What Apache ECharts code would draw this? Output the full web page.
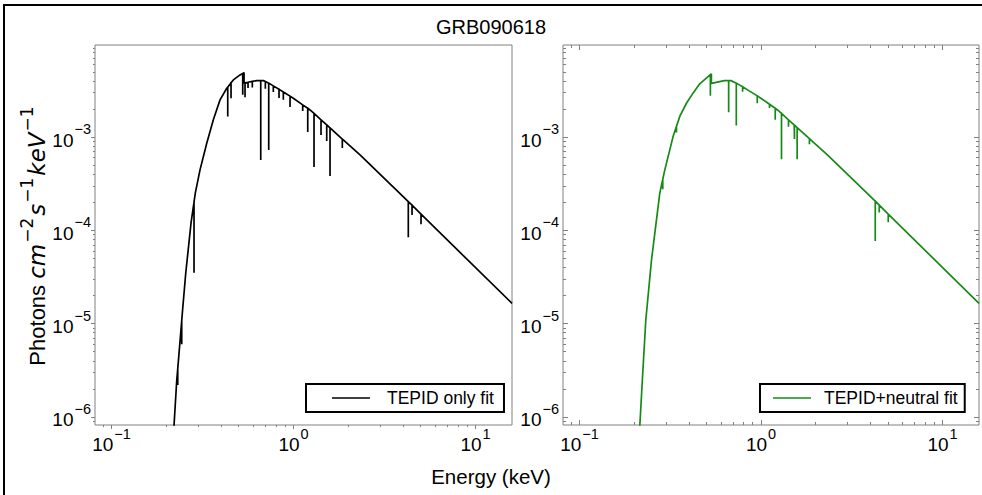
<!DOCTYPE html>
<html><head><meta charset="utf-8">
<script src="https://cdn.jsdelivr.net/npm/echarts@6/dist/echarts.min.js"></script>
<style>html,body{margin:0;padding:0;background:#fff}#c{width:982px;height:495px}</style>
</head><body><div id="c"></div>
<script>
// ---------------- data ----------------
const chartTitle = 'GRB090618';
const xTitle = 'Energy (keV)';
const seriesNames = ['TEPID only fit', 'TEPID+neutral fit'];
const xRange = [0.0811, 15.87];
const yRange = [8.2e-7, 9.68e-3];
const xMajorTicks = [0.1, 1, 10];
const xMinorTicks = [0.09, 0.2, 0.3, 0.4, 0.5, 0.6, 0.7, 0.8, 0.9, 2, 3, 4, 5, 6, 7, 8, 9];
const yMajorTicks = [1e-6, 1e-5, 1e-4, 1e-3];
const yMinorTicks = [9e-7, 2e-6, 3e-6, 4e-6, 5e-6, 6e-6, 7e-6, 8e-6, 9e-6,
  2e-5, 3e-5, 4e-5, 5e-5, 6e-5, 7e-5, 8e-5, 9e-5,
  2e-4, 3e-4, 4e-4, 5e-4, 6e-4, 7e-4, 8e-4, 9e-4,
  2e-3, 3e-3, 4e-3, 5e-3, 6e-3, 7e-3, 8e-3, 9e-3];

// continuum [energy keV, photons]
const tepidContinuum = [
  [0.2150, 2.7e-7], [0.2205, 8.2e-7], [0.2282, 2.49e-6], [0.2449, 1.30e-5], [0.2557, 3.49e-5],
  [0.2734, 1.20e-4], [0.2887, 2.52e-4], [0.3063, 4.44e-4], [0.3335, 8.58e-4], [0.3625, 1.53e-3],
  [0.3946, 2.50e-3], [0.4295, 3.33e-3], [0.4670, 4.09e-3], [0.5082, 4.63e-3], [0.5346, 4.90e-3],
  [0.5346, 3.80e-3], [0.6279, 4.02e-3], [0.6823, 4.02e-3], [0.7427, 3.71e-3], [0.8429, 3.20e-3],
  [0.9975, 2.60e-3], [1.232, 1.95e-3], [1.522, 1.35e-3], [1.877, 9.31e-4], [2.320, 6.43e-4],
  [4.273, 2.03e-4], [15.87, 1.65e-5]
];
// absorption lines [energy, flux at continuum, flux at line bottom]
const tepidLines = [
  [0.2311, 3.3e-6, 2.2e-6], [0.2430, 1.08e-5, 6.0e-6], [0.2839, 2.0e-4, 3.52e-5],
  [0.4350, 3.42e-3, 1.66e-3], [0.4535, 3.81e-3, 2.60e-3], [0.5258, 4.80e-3, 2.83e-3],
  [0.5414, 3.81e-3, 2.67e-3], [0.5623, 3.86e-3, 3.36e-3], [0.5936, 3.94e-3, 3.40e-3],
  [0.6604, 4.02e-3, 5.68e-4], [0.7000, 3.93e-3, 3.28e-3], [0.7306, 3.77e-3, 7.27e-4],
  [0.7744, 3.53e-3, 3.04e-3], [0.8323, 3.25e-3, 2.62e-3], [0.8790, 3.04e-3, 2.50e-3],
  [0.9567, 2.74e-3, 2.10e-3], [1.123, 2.21e-3, 1.90e-3], [1.197, 2.03e-3, 1.13e-3],
  [1.296, 1.79e-3, 4.78e-4], [1.416, 1.53e-3, 1.05e-3], [1.522, 1.35e-3, 9.08e-4],
  [1.587, 1.25e-3, 3.83e-4], [1.854, 9.5e-4, 7.64e-4], [4.273, 2.03e-4, 8.43e-5],
  [4.479, 1.86e-4, 1.46e-4], [5.019, 1.49e-4, 1.16e-4]
];
const neutralContinuum = [
  [0.2097, 2.7e-7], [0.2150, 8.2e-7], [0.2219, 2.49e-6], [0.2319, 1.10e-5], [0.2492, 4.82e-5],
  [0.2768, 2.50e-4], [0.2950, 4.44e-4], [0.3276, 1.01e-3], [0.3566, 1.66e-3], [0.3882, 2.30e-3],
  [0.4219, 2.95e-3], [0.4594, 3.71e-3], [0.4997, 4.27e-3], [0.5326, 4.75e-3], [0.5326, 3.75e-3],
  [0.6279, 4.02e-3], [0.6823, 4.02e-3], [0.7427, 3.71e-3], [0.8429, 3.20e-3], [0.9975, 2.60e-3],
  [1.232, 1.95e-3], [1.522, 1.35e-3], [1.877, 9.31e-4], [2.320, 6.43e-4], [4.273, 2.03e-4],
  [15.87, 1.65e-5]
];
const neutralLines = [
  [0.2875, 3.53e-4, 2.75e-4], [0.3420, 1.30e-3, 1.12e-3], [0.5258, 4.65e-3, 2.76e-3],
  [0.6630, 4.02e-3, 1.84e-3], [0.7306, 3.77e-3, 1.33e-3], [0.7914, 3.45e-3, 3.05e-3],
  [0.9530, 2.76e-3, 2.30e-3], [1.113, 2.24e-3, 2.05e-3], [1.197, 2.03e-3, 1.53e-3],
  [1.296, 1.79e-3, 5.78e-4], [1.416, 1.53e-3, 1.29e-3], [1.528, 1.34e-3, 9.54e-4],
  [1.581, 1.26e-3, 5.78e-4], [1.847, 9.6e-4, 8.37e-4], [4.257, 2.05e-4, 7.70e-5],
  [4.479, 1.86e-4, 1.55e-4], [5.019, 1.49e-4, 1.22e-4]
];

// ---------------- build ----------------
function buildSeriesData(cont, lines) {
  const items = cont.map((p, i) => ({ e: p[0], k: i, pts: [[p[0], p[1]]] }));
  lines.forEach((l, i) => items.push({ e: l[0], k: 1000 + i, pts: [[l[0], l[1]], [l[0], l[2]], [l[0], l[1]]] }));
  items.sort((a, b) => (a.e - b.e) || (a.k - b.k));
  const out = [];
  items.forEach(it => it.pts.forEach(p => out.push(p)));
  return out;
}

const FONT = 'Liberation Sans';
const MATH = 'DejaVu Sans';
const frameColor = '#808080';
function supFmt(v) {
  const e = Math.round(Math.log10(v));
  return '{b|10}{s|' + (e < 0 ? '\u2212' + (-e) : String(e)) + '}';
}
const richTick = {
  b: { fontSize: 19, fontFamily: FONT, color: '#000', verticalAlign: 'bottom', lineHeight: 20 },
  s: { fontSize: 14.5, fontFamily: FONT, color: '#000', verticalAlign: 'bottom', lineHeight: 14, padding: [0, 0, 13, 1] }
};

function xAxisDef(gridIndex, position, ticks, len, inside, labels) {
  return {
    type: 'log', logBase: 10, gridIndex, position, min: xRange[0], max: xRange[1],
    axisLine: { show: false }, splitLine: { show: false },
    axisTick: { show: true, inside, length: len, customValues: ticks, lineStyle: { color: frameColor, width: 1 } },
    axisLabel: labels ? { show: true, customValues: ticks, formatter: supFmt, rich: richTick, margin: 9 } : { show: false }
  };
}
function yAxisDef(gridIndex, position, ticks, len, inside, labels, extra) {
  return Object.assign({
    type: 'log', logBase: 10, gridIndex, position, min: yRange[0], max: yRange[1],
    axisLine: { show: false }, splitLine: { show: false },
    axisTick: { show: true, inside, length: len, customValues: ticks, lineStyle: { color: frameColor, width: 1 } },
    axisLabel: labels ? { show: true, customValues: ticks, formatter: supFmt, rich: richTick, margin: 4, padding: [5, 0, 0, 0] } : { show: false }
  }, extra || {});
}

const yName = '{r|Photons }{i|cm}{s|\u22122}{i|s}{s|\u22121}{i|keV}{s|\u22121}';
const yNameStyle = {
  rich: {
    r: { fontSize: 22, fontFamily: FONT, color: '#000', verticalAlign: 'bottom', lineHeight: 25 },
    i: { fontSize: 23, fontFamily: MATH, fontStyle: 'italic', color: '#000', verticalAlign: 'bottom', lineHeight: 25 },
    s: { fontSize: 17, fontFamily: MATH, color: '#000', verticalAlign: 'bottom', lineHeight: 17, padding: [0, 2, 13, 1] }
  }
};

const chart = echarts.init(document.getElementById('c'), null, { renderer: 'svg' });
chart.setOption({
  animation: false,
  backgroundColor: '#fff',
  title: [
    { text: chartTitle, left: 'center', top: 17, padding: 0,
      textStyle: { fontSize: 20, fontWeight: 'normal', fontFamily: FONT, color: '#000' } },
    { text: xTitle, left: 'center', top: 466, padding: 0,
      textStyle: { fontSize: 20.5, fontWeight: 'normal', fontFamily: FONT, color: '#000' } }
  ],
  grid: [
    { left: 95, top: 45, width: 417, height: 380, show: true, borderColor: frameColor, borderWidth: 1, backgroundColor: 'transparent' },
    { left: 563, top: 45, width: 416, height: 380, show: true, borderColor: frameColor, borderWidth: 1, backgroundColor: 'transparent' }
  ],
  xAxis: [
    xAxisDef(0, 'bottom', xMajorTicks, 4, false, true),
    xAxisDef(0, 'bottom', xMinorTicks, 2, false, false),
    xAxisDef(1, 'bottom', xMajorTicks, 5, true, true),
    xAxisDef(1, 'bottom', xMinorTicks, 3, true, false),
    xAxisDef(1, 'top', xMajorTicks, 5, true, false),
    xAxisDef(1, 'top', xMinorTicks, 3, true, false)
  ],
  yAxis: [
    yAxisDef(0, 'left', yMajorTicks, 4, false, true,
      { name: yName, nameLocation: 'middle', nameRotate: 90, nameGap: 40, nameTextStyle: yNameStyle }),
    yAxisDef(0, 'left', yMinorTicks, 2, false, false),
    yAxisDef(1, 'left', yMajorTicks, 5, true, true),
    yAxisDef(1, 'left', yMinorTicks, 3, true, false),
    yAxisDef(1, 'right', yMajorTicks, 5, true, false),
    yAxisDef(1, 'right', yMinorTicks, 3, true, false)
  ],
  legend: [
    { data: [{ name: seriesNames[0], icon: 'rect' }], left: 306, top: 384, orient: 'horizontal', padding: [5, 10, 5, 26],
      borderColor: '#000', borderWidth: 2, borderRadius: 0, backgroundColor: '#fff',
      itemWidth: 38, itemHeight: 1.6, selectedMode: false,
      textStyle: { fontSize: 17.5, fontFamily: FONT, color: '#000', padding: [0, 0, 0, 12] } },
    { data: [{ name: seriesNames[1], icon: 'rect' }], left: 760, top: 384, orient: 'horizontal', padding: [5, 7, 5, 13],
      borderColor: '#000', borderWidth: 2, borderRadius: 0, backgroundColor: '#fff',
      itemWidth: 38, itemHeight: 1.6, selectedMode: false,
      textStyle: { fontSize: 17.5, fontFamily: FONT, color: '#000', padding: [0, 0, 0, 8] } }
  ],
  graphic: [
    { type: 'rect', z: 100, shape: { x: 4, y: 5, width: 1000, height: 520 },
      style: { fill: 'none', stroke: '#000', lineWidth: 2 } }
  ],
  series: [
    { type: 'line', name: seriesNames[0], xAxisIndex: 0, yAxisIndex: 0,
      data: buildSeriesData(tepidContinuum, tepidLines),
      symbol: 'none', showSymbol: false, clip: true, sampling: null,
      lineStyle: { color: '#000', width: 1.7 }, itemStyle: { color: '#000' } },
    { type: 'line', name: seriesNames[1], xAxisIndex: 2, yAxisIndex: 2,
      data: buildSeriesData(neutralContinuum, neutralLines),
      symbol: 'none', showSymbol: false, clip: true, sampling: null,
      lineStyle: { color: '#168a16', width: 1.7 }, itemStyle: { color: '#168a16' } }
  ]
});
</script>
</body></html>
